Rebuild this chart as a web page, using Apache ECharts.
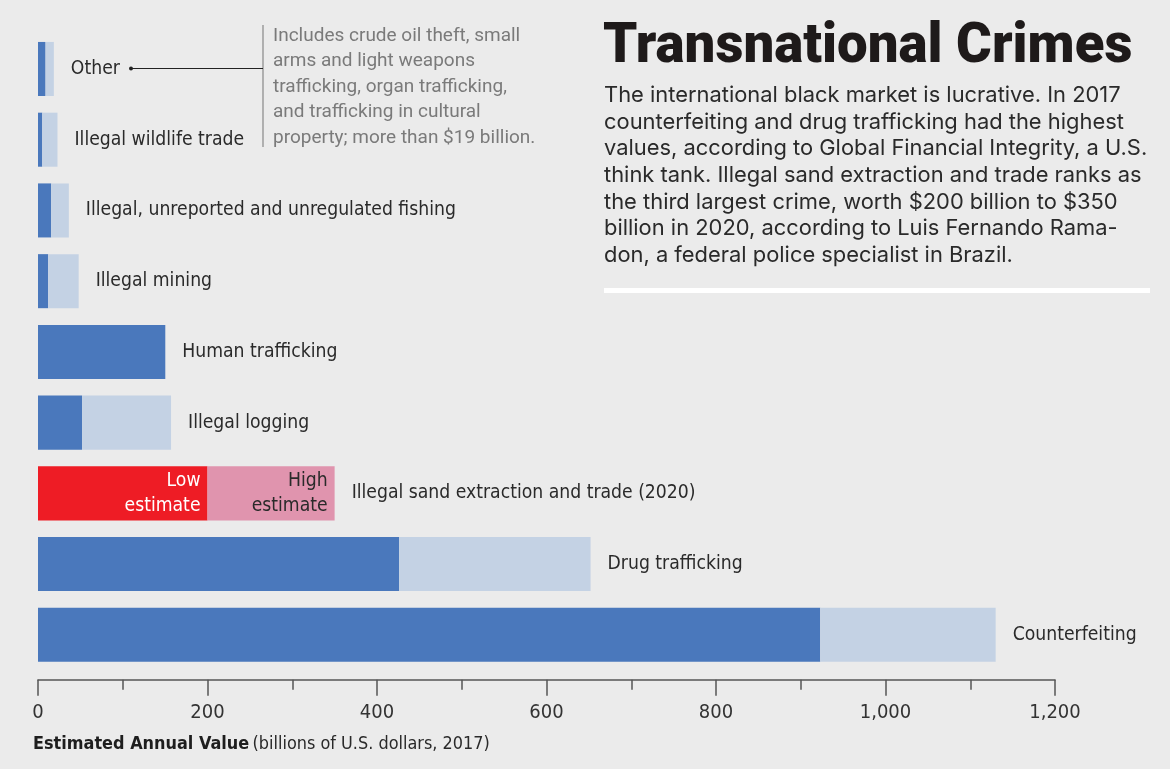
<!DOCTYPE html>
<html>
<head>
<meta charset="utf-8">
<script src="https://cdn.jsdelivr.net/npm/echarts@6/dist/echarts.min.js"></script>
<style>
html,body{margin:0;padding:0;background:#ebebeb;}
#chart{width:1170px;height:769px;}
</style>
</head>
<body>
<div id="chart"></div>
<script>
// Data (billions of U.S. dollars), bottom to top
const categories = [
  'Counterfeiting',
  'Drug trafficking',
  'Illegal sand extraction and trade (2020)',
  'Illegal logging',
  'Human trafficking',
  'Illegal mining',
  'Illegal, unreported and unregulated fishing',
  'Illegal wildlife trade',
  'Other'
];
const lowEstimate  = [923, 426, 200, 52, 150.2, 12, 15.5, 5, 8.9];
const highEstimate = [1130, 652, 350, 157, 150.2, 48, 36.4, 23, 18.7];
const xTicks = [0, 200, 400, 600, 800, 1000, 1200];

const titleText = 'Transnational Crimes';
const introLines = [
  'The international black market is lucrative. In 2017',
  'counterfeiting and drug trafficking had the highest',
  'values, according to Global Financial Integrity, a U.S.',
  'think tank. Illegal sand extraction and trade ranks as',
  'the third largest crime, worth $200 billion to $350',
  'billion in 2020, according to Luis Fernando Rama-',
  'don, a federal police specialist in Brazil.'
];
const otherNoteLines = [
  'Includes crude oil theft, small',
  'arms and light weapons',
  'trafficking, organ trafficking,',
  'and trafficking in cultural',
  'property; more than $19 billion.'
];

const SAND = 'Illegal sand extraction and trade (2020)';
const COND = '"Liberation Sans Narrow", "DejaVu Sans Condensed", Roboto, sans-serif';
const BODY = 'Inter, Roboto, sans-serif';
const DARK = '#4a78bc', LIGHT = '#c4d2e4', RED = '#ee1c25', PINK = '#e094ae';

// font size fitting helper (layout only)
const mctx = document.createElement('canvas').getContext('2d');
function fit(text, weight, family, width) {
  mctx.font = weight + ' 100px ' + family;
  return Math.round(100 * width / mctx.measureText(text).width * 10) / 10;
}
const labelSize = 19.2;
const titleSize = fit(titleText, '900', 'Roboto, sans-serif', 529);
const bodySize = fit(introLines[2], 'normal', BODY, 543);
const noteSize = fit(otherNoteLines[0], 'normal', 'Roboto, sans-serif', 247);
const axisNameSize = fit('Estimated Annual Value', 'bold', COND, 216);

const lowData = lowEstimate.map((v, i) => {
  if (categories[i] === SAND) {
    return { value: v, itemStyle: { color: RED },
      label: { show: true, position: 'insideRight', distance: 7, formatter: 'Low\nestimate',
        color: '#ffffff', fontSize: labelSize, lineHeight: 25, align: 'right', fontFamily: COND,
        padding: [4, 0, 0, 0] } };
  }
  return v;
});
const highData = highEstimate.map((v, i) => {
  const d = +(v - lowEstimate[i]).toFixed(2);
  if (categories[i] === SAND) {
    return { value: d, itemStyle: { color: PINK },
      label: { show: true, position: 'insideRight', distance: 7, formatter: 'High\nestimate',
        color: '#2a2a2a', fontSize: labelSize, lineHeight: 25, align: 'right', fontFamily: COND,
        padding: [4, 0, 0, 0] } };
  }
  return d;
});
const nameData = categories.map(() => 0);

const chart = echarts.init(document.getElementById('chart'), null, { renderer: 'canvas' });
chart.setOption({
  backgroundColor: '#ebebeb',
  animation: false,
  grid: { left: 38, right: 115, top: 33.6, bottom: 98.8, containLabel: false },
  xAxis: {
    type: 'value', min: 0, max: 1200, interval: 200, offset: 9.5,
    axisLine: { show: true, lineStyle: { color: '#555', width: 1.5 } },
    axisTick: { show: true, length: 16, lineStyle: { color: '#555', width: 1.5 } },
    minorTick: { show: true, splitNumber: 2, length: 10, lineStyle: { color: '#555', width: 1.5 } },
    splitLine: { show: false },
    axisLabel: { color: '#333', fontSize: 20, fontFamily: COND, margin: 23,
      formatter: v => xTicks.includes(v) ? v.toLocaleString('en-US') : '' }
  },
  yAxis: {
    type: 'category', data: categories,
    axisLine: { show: false }, axisTick: { show: false }, axisLabel: { show: false }
  },
  series: [
    { type: 'bar', stack: 'v', data: lowData, barCategoryGap: '23.6%',
      itemStyle: { color: DARK }, label: { show: false } },
    { type: 'bar', stack: 'v', data: highData,
      itemStyle: { color: LIGHT }, label: { show: false } },
    { type: 'bar', stack: 'v', data: nameData,
      itemStyle: { color: 'transparent' },
      label: { show: true, position: 'right', distance: 17, color: '#2a2a2a', fontSize: labelSize,
        fontFamily: COND, formatter: p => categories[p.dataIndex] } }
  ],
  graphic: [
    { type: 'text', left: 603, top: 21,
      style: { text: titleText, fill: '#1e1a1a', font: '900 ' + titleSize + 'px Roboto, sans-serif' } },
    { type: 'text', left: 604, top: 82,
      style: { text: introLines.join('\n'), fill: '#2a2a2a', font: bodySize + 'px ' + BODY, lineHeight: 26.67 } },
    { type: 'rect', shape: { x: 604, y: 288, width: 546, height: 5 }, style: { fill: '#ffffff' } },
    { type: 'line', shape: { x1: 263, y1: 25, x2: 263, y2: 147 }, style: { stroke: '#888', lineWidth: 1.2 } },
    { type: 'line', shape: { x1: 131, y1: 68.5, x2: 263, y2: 68.5 }, style: { stroke: '#222', lineWidth: 1.2 } },
    { type: 'circle', shape: { cx: 131, cy: 68.5, r: 2 }, style: { fill: '#222' } },
    { type: 'text', left: 273, top: 23,
      style: { text: otherNoteLines.join('\n'), fill: '#7a7a7a', font: noteSize + 'px Roboto, sans-serif', lineHeight: 25.5 } },
    { type: 'text', left: 33, top: 735,
      style: { text: '{b|Estimated Annual Value} {n|(billions of U.S. dollars, 2017)}',
        rich: {
          b: { fontFamily: COND, fontWeight: 'bold', fontSize: axisNameSize, fill: '#1e1e1e' },
          n: { fontFamily: COND, fontSize: axisNameSize, fill: '#2a2a2a' }
        } } }
  ]
});
</script>
</body>
</html>
